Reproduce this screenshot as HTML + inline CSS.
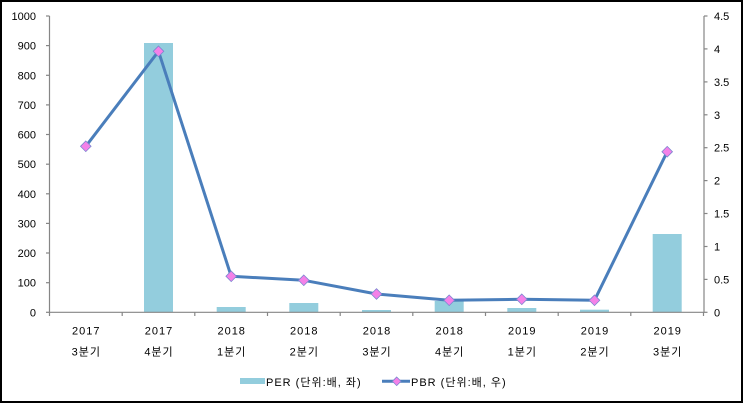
<!DOCTYPE html>
<html><head><meta charset="utf-8"><style>
html,body{margin:0;padding:0;background:#fff;}
svg{display:block;}
text{font-family:"Liberation Sans","Noto Sans CJK KR",sans-serif;font-size:11px;fill:#000;}
.sp{letter-spacing:1px;}
</style></head><body>
<svg width="743" height="403" viewBox="0 0 743 403" xmlns="http://www.w3.org/2000/svg">
<rect x="1" y="1" width="741" height="401" fill="#fff" stroke="#000" stroke-width="2"/>
<!-- bars -->
<g fill="#93CDDD">
<rect x="144" y="43" width="29" height="269.3"/>
<rect x="216.7" y="307" width="29" height="5.3"/>
<rect x="289.3" y="303" width="29" height="9.3"/>
<rect x="362" y="310" width="29" height="2.3"/>
<rect x="434.7" y="301" width="29" height="11.3"/>
<rect x="507.3" y="308" width="29" height="4.3"/>
<rect x="580" y="309.7" width="29" height="2.6"/>
<rect x="652.7" y="234" width="29" height="78.3"/>
</g>
<!-- axes -->
<g stroke="#868686" stroke-width="1.2" fill="none">
<line x1="49.5" y1="16" x2="49.5" y2="312.3"/>
<line x1="704" y1="16" x2="704" y2="312.3"/>
<line x1="49.5" y1="312.3" x2="704" y2="312.3"/>
<line x1="46" y1="16" x2="49.5" y2="16"/>
<line x1="46" y1="45.6" x2="49.5" y2="45.6"/>
<line x1="46" y1="75.3" x2="49.5" y2="75.3"/>
<line x1="46" y1="104.9" x2="49.5" y2="104.9"/>
<line x1="46" y1="134.5" x2="49.5" y2="134.5"/>
<line x1="46" y1="164.2" x2="49.5" y2="164.2"/>
<line x1="46" y1="193.8" x2="49.5" y2="193.8"/>
<line x1="46" y1="223.4" x2="49.5" y2="223.4"/>
<line x1="46" y1="253" x2="49.5" y2="253"/>
<line x1="46" y1="282.7" x2="49.5" y2="282.7"/>
<line x1="46" y1="312.3" x2="49.5" y2="312.3"/>
<line x1="704" y1="16" x2="707.5" y2="16"/>
<line x1="704" y1="48.9" x2="707.5" y2="48.9"/>
<line x1="704" y1="81.9" x2="707.5" y2="81.9"/>
<line x1="704" y1="114.8" x2="707.5" y2="114.8"/>
<line x1="704" y1="147.7" x2="707.5" y2="147.7"/>
<line x1="704" y1="180.6" x2="707.5" y2="180.6"/>
<line x1="704" y1="213.5" x2="707.5" y2="213.5"/>
<line x1="704" y1="246.5" x2="707.5" y2="246.5"/>
<line x1="704" y1="279.4" x2="707.5" y2="279.4"/>
<line x1="704" y1="312.3" x2="707.5" y2="312.3"/>
<line x1="49.5" y1="312.3" x2="49.5" y2="316"/>
<line x1="122.2" y1="312.3" x2="122.2" y2="316"/>
<line x1="194.8" y1="312.3" x2="194.8" y2="316"/>
<line x1="267.5" y1="312.3" x2="267.5" y2="316"/>
<line x1="340.2" y1="312.3" x2="340.2" y2="316"/>
<line x1="412.8" y1="312.3" x2="412.8" y2="316"/>
<line x1="485.5" y1="312.3" x2="485.5" y2="316"/>
<line x1="558.2" y1="312.3" x2="558.2" y2="316"/>
<line x1="630.8" y1="312.3" x2="630.8" y2="316"/>
<line x1="703.5" y1="312.3" x2="703.5" y2="316"/>
</g>
<!-- left labels -->
<g text-anchor="end">
<text x="36" y="20">1000</text>
<text x="36" y="49.6">900</text>
<text x="36" y="79.3">800</text>
<text x="36" y="108.9">700</text>
<text x="36" y="138.5">600</text>
<text x="36" y="168.2">500</text>
<text x="36" y="197.8">400</text>
<text x="36" y="227.4">300</text>
<text x="36" y="257">200</text>
<text x="36" y="286.7">100</text>
<text x="36" y="316.3">0</text>
</g>
<!-- right labels -->
<g>
<text x="714" y="20">4.5</text>
<text x="714" y="52.9">4</text>
<text x="714" y="85.9">3.5</text>
<text x="714" y="118.8">3</text>
<text x="714" y="151.7">2.5</text>
<text x="714" y="184.6">2</text>
<text x="714" y="217.5">1.5</text>
<text x="714" y="250.5">1</text>
<text x="714" y="283.4">0.5</text>
<text x="714" y="316.3">0</text>
</g>
<!-- category labels -->
<g text-anchor="middle" class="sp">
<text x="86.3" y="334.5">2017</text><text x="86.3" y="355.5">3분기</text>
<text x="159" y="334.5">2017</text><text x="159" y="355.5">4분기</text>
<text x="231.7" y="334.5">2018</text><text x="231.7" y="355.5">1분기</text>
<text x="304.3" y="334.5">2018</text><text x="304.3" y="355.5">2분기</text>
<text x="377" y="334.5">2018</text><text x="377" y="355.5">3분기</text>
<text x="449.7" y="334.5">2018</text><text x="449.7" y="355.5">4분기</text>
<text x="522.3" y="334.5">2019</text><text x="522.3" y="355.5">1분기</text>
<text x="595" y="334.5">2019</text><text x="595" y="355.5">2분기</text>
<text x="667.7" y="334.5">2019</text><text x="667.7" y="355.5">3분기</text>
</g>
<!-- line -->
<polyline fill="none" stroke="#4A7EBB" stroke-width="3" stroke-linejoin="round" points="85.8,146.3 158.5,51.3 231.2,276.3 303.8,280.3 376.5,294 449.2,300.3 521.8,299.3 594.5,300.3 667.2,151.7"/>
<g fill="#F481E8" stroke="#7C86D0" stroke-width="0.8">
<polygon points="85.8,141 91.1,146.3 85.8,151.6 80.5,146.3"/>
<polygon points="158.5,46 163.8,51.3 158.5,56.6 153.2,51.3"/>
<polygon points="231.2,271 236.5,276.3 231.2,281.6 225.9,276.3"/>
<polygon points="303.8,275 309.1,280.3 303.8,285.6 298.5,280.3"/>
<polygon points="376.5,288.7 381.8,294 376.5,299.3 371.2,294"/>
<polygon points="449.2,295 454.5,300.3 449.2,305.6 443.9,300.3"/>
<polygon points="521.8,294 527.1,299.3 521.8,304.6 516.5,299.3"/>
<polygon points="594.5,295 599.8,300.3 594.5,305.6 589.2,300.3"/>
<polygon points="667.2,146.4 672.5,151.7 667.2,157 661.9,151.7"/>
</g>
<!-- legend -->
<rect x="240" y="378" width="25" height="6" fill="#93CDDD"/>
<text x="266" y="386" class="sp">PER (단위:배, 좌)</text>
<line x1="382" y1="381.3" x2="410" y2="381.3" stroke="#4A7EBB" stroke-width="3"/>
<polygon points="396.7,377 401,381.3 396.7,385.6 392.4,381.3" fill="#F481E8" stroke="#7C86D0" stroke-width="0.8"/>
<text x="411" y="386" class="sp">PBR (단위:배, 우)</text>
</svg>
</body></html>
